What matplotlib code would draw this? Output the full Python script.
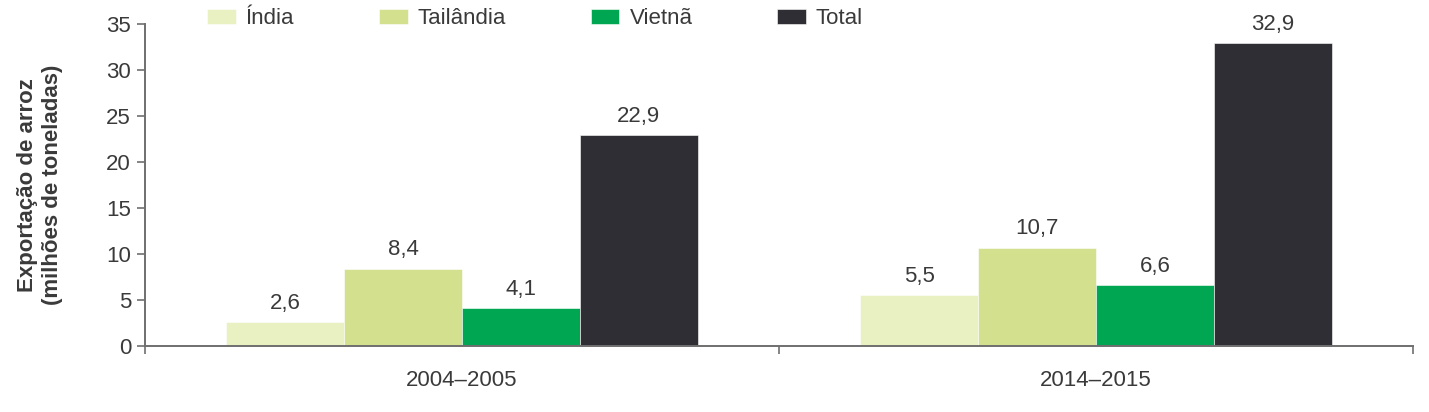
import matplotlib
matplotlib.use("Agg")
import matplotlib.pyplot as plt
import numpy as np

periods = ["2004–2005", "2014–2015"]
series_names = ["Índia", "Tailândia", "Vietnã", "Total"]
india = [2.6, 5.5]
tailandia = [8.4, 10.7]
vietna = [4.1, 6.6]
total = [22.9, 32.9]
value_labels = [["2,6", "5,5"], ["8,4", "10,7"], ["4,1", "6,6"], ["22,9", "32,9"]]
colors = ["#e9f1c3", "#d3e08d", "#00a651", "#2e2e34"]
yticks = [0, 5, 10, 15, 20, 25, 30, 35]

plt.rcParams['font.family'] = ['Liberation Sans', 'DejaVu Sans']
axis_color = "#6f6f6f"
text_color = "#3a3a3a"
fs = 16

fig = plt.figure(figsize=(14.29, 4.12), dpi=100)
ax = fig.add_axes([145/1429, 1-346/412, (1413-145)/1429, (346-24)/412])

x = np.arange(len(periods))
w = 0.186
data = [india, tailandia, vietna, total]
handles = []
for i, (vals, labs, c, name) in enumerate(zip(data, value_labels, colors, series_names)):
    pos = x + (i - 1.5) * w
    b = ax.bar(pos, vals, width=w, color=c, edgecolor="white", linewidth=0.4, label=name)
    handles.append(b)
    for p, v, t in zip(pos, vals, labs):
        ax.annotate(t, (p, v), xytext=(0, 6), textcoords="offset points",
                    ha="center", va="bottom", fontsize=fs, color=text_color)

ax.set_xlim(-0.5, 1.5)
ax.set_ylim(0, 35)
ax.set_yticks(yticks)
ax.set_xticks(x)
ax.set_xticklabels(periods)
ax.set_xticks([-0.5, 0.5, 1.5], minor=True)
ax.tick_params(axis="x", which="major", length=0, pad=17, labelsize=fs, labelcolor=text_color)
ax.tick_params(axis="x", which="minor", length=6, width=1.2, color=axis_color)
ax.tick_params(axis="y", length=6, width=1.2, color=axis_color, labelsize=fs, labelcolor=text_color, pad=4)
for s in ["top", "right"]:
    ax.spines[s].set_visible(False)
for s in ["left", "bottom"]:
    ax.spines[s].set_color(axis_color)
    ax.spines[s].set_linewidth(1.4)

fig.text(40/1429, 1-185/412, "Exportação de arroz\n(milhões de toneladas)", rotation=90,
         ha="center", va="center", fontsize=fs, fontweight="bold", color=text_color,
         linespacing=1.2)

leg = fig.legend(handles=handles, labels=series_names, loc="center left",
                 bbox_to_anchor=(207/1429, 1-19/412), ncol=4, frameon=False,
                 borderpad=0, borderaxespad=0, handlelength=1.3, handleheight=0.65,
                 handletextpad=0.45, columnspacing=3.8, fontsize=fs)
for t in leg.get_texts():
    t.set_color(text_color)

fig.savefig("out.png", dpi=100)
